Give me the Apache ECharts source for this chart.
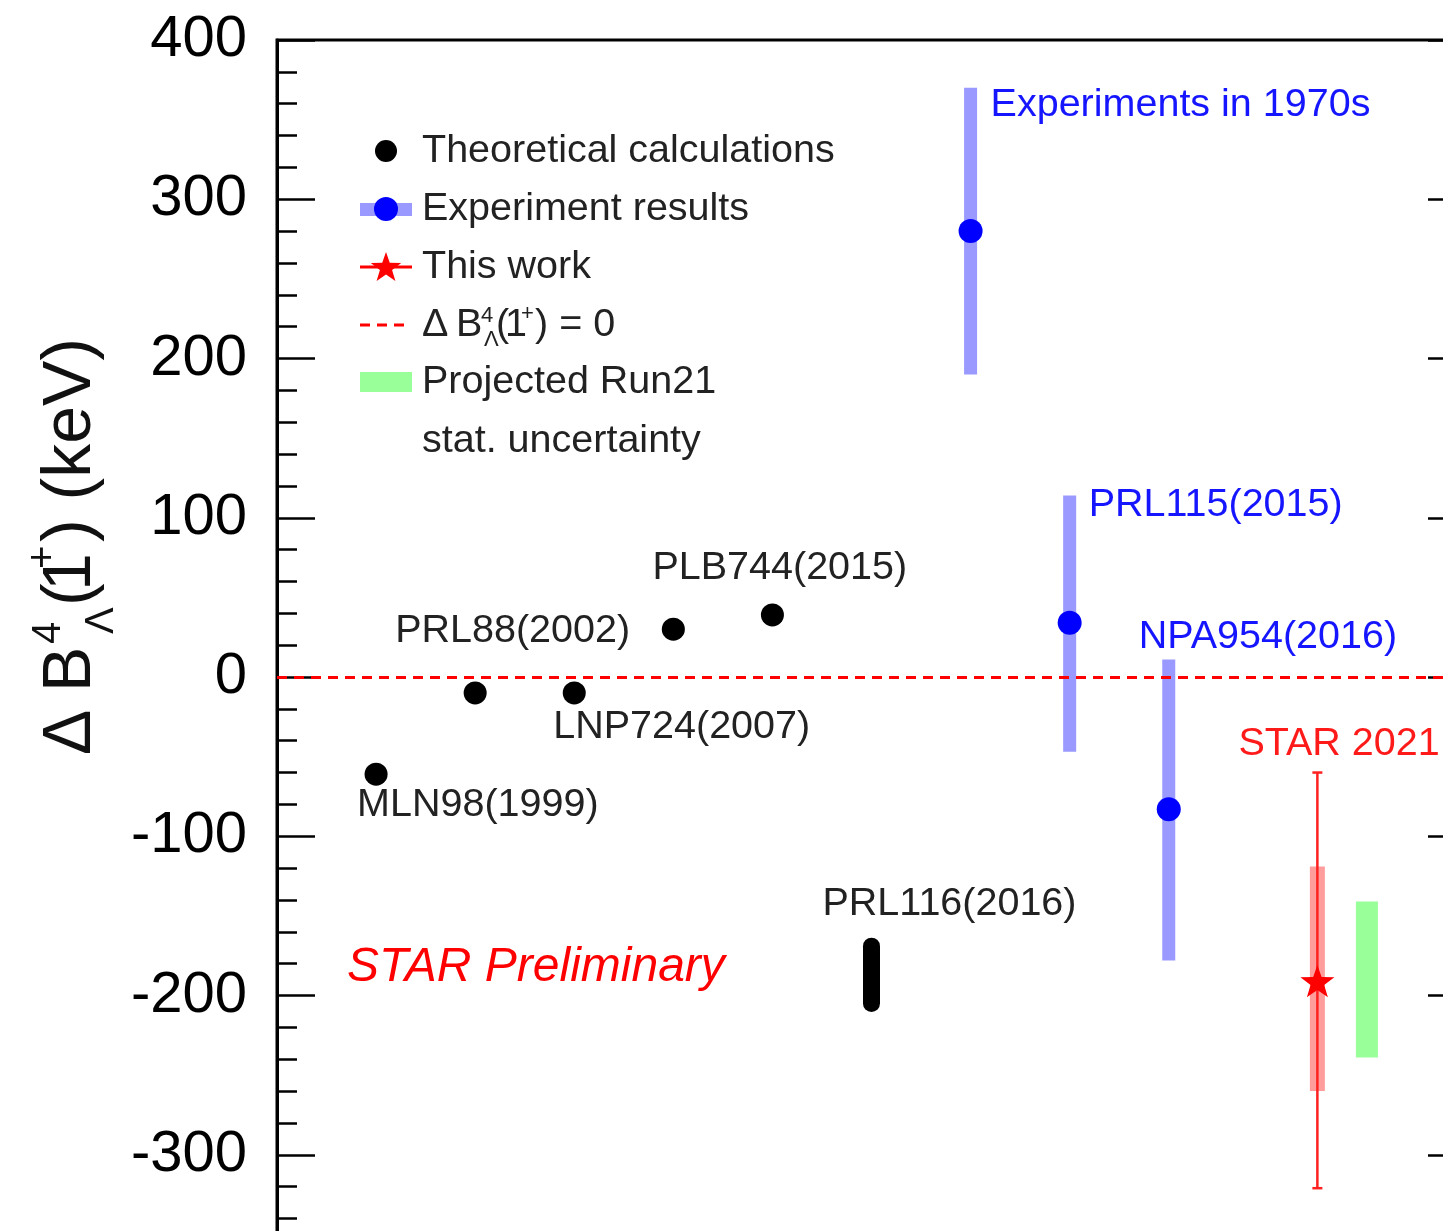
<!DOCTYPE html>
<html><head><meta charset="utf-8">
<script src="https://cdn.jsdelivr.net/npm/echarts@6/dist/echarts.min.js"></script>
<style>html,body{margin:0;padding:0;background:#fff}#c{width:1443px;height:1231px}</style>
</head><body><div id="c"></div>
<script>
// ---------------- data ----------------
const theoryX = [1, 2, 3, 4, 5];
const theoryY = [-61, -10, -10, 30, 39];
const theoryLabels = ['MLN98(1999)', 'PRL88(2002)', 'LNP724(2007)', '', 'PLB744(2015)'];
const rangeX = [6];
const rangeLow = [-205];
const rangeHigh = [-169];
const rangeLabels = ['PRL116(2016)'];
const expX = [7, 8, 9];
const expY = [280, 34, -83];
const expLow = [190, -47, -178];
const expHigh = [370, 114, 11];
const expLabels = ['Experiments in 1970s', 'PRL115(2015)', 'NPA954(2016)'];
const workX = [10.5];
const workY = [-191];
const workStatLow = [-260];
const workStatHigh = [-119];
const workTotLow = [-321];
const workTotHigh = [-60];
const workLabels = ['STAR 2021'];
const projX = [11];
const projLow = [-239];
const projHigh = [-141];
const yMin = -400, yMax = 400, yStep = 100;
const xMin = 0, xMax = 12;

// ---------------- style ----------------
const FONT = '"Liberation Sans", Arial, Helvetica, sans-serif';
const LF = 39.5;
const theoryLabelOffset = [[-19, 31], [-80, -62], [-21, 34], [0, 0], [-120, -47]];
const expLabelOffset = [[20, 17], [19, 10], [-30, -22]];
const rangeLabelOffset = [-49, -42];
const workLabelOffset = [-79, -28];

function starPoints(cx, cy, R, ratio) {
  const pts = [];
  for (let i = 0; i < 10; i++) {
    const r = i % 2 === 0 ? R : R * ratio;
    const a = -Math.PI / 2 + i * Math.PI / 5;
    pts.push([cx + r * Math.cos(a), cy + r * Math.sin(a)]);
  }
  return pts;
}
const starSym = 'path://' + starPoints(0, 0, 1, 0.4).map((p, i) => (i ? 'L' : 'M') + p[0].toFixed(3) + ',' + p[1].toFixed(3)).join(' ') + ' Z';

function txt(x, y, s, size, color, extra) {
  return { type: 'text', x: x, y: y, style: Object.assign({ text: s, fill: color, fontSize: size, fontFamily: FONT, align: 'left', verticalAlign: 'middle' }, extra || {}) };
}

const chart = echarts.init(document.getElementById('c'), null, { renderer: 'canvas' });

// y-axis title (rotated), local coords along text
const T = 68, TS = 40;
const titleGroup = {
  type: 'group', x: 71, y: 755, rotation: Math.PI / 2, silent: true,
  children: [
    txt(0, 0, 'Δ', T, '#111'),
    txt(63, 0, 'B', T, '#111'),
    txt(111, -22, '4', TS, '#111'),
    txt(121, 31, 'Λ', TS, '#111'),
    txt(149, 0, '(', T, '#111'),
    txt(164, 0, '1', T, '#111'),
    txt(186, -27, '+', TS, '#111'),
    txt(213, 0, ') (keV)', T, '#111')
  ]
};

const L = LF, LS = 22, LX = 422, LC = '#222';
const legendEls = [
  { type: 'circle', shape: { cx: 386, cy: 151, r: 11 }, style: { fill: '#000' } },
  txt(LX, 151, 'Theoretical calculations', L, LC),
  { type: 'rect', shape: { x: 360, y: 203, width: 52, height: 13 }, style: { fill: '#9999ff' } },
  { type: 'circle', shape: { cx: 386, cy: 209, r: 12 }, style: { fill: '#0000ff' } },
  txt(LX, 209, 'Experiment results', L, LC),
  { type: 'line', shape: { x1: 360, y1: 267, x2: 412, y2: 267 }, style: { stroke: '#ff0000', lineWidth: 3 } },
  { type: 'polygon', shape: { points: starPoints(386, 268, 16, 0.4) }, style: { fill: '#ff0000' } },
  txt(LX, 267, 'This work', L, LC),
  { type: 'line', shape: { x1: 360, y1: 325, x2: 406, y2: 325 }, style: { stroke: '#ff0000', lineWidth: 3, lineDash: [10, 7] } },
  txt(LX, 325, 'Δ', L, LC),
  txt(456, 325, 'B', L, LC),
  txt(481, 316, '4', LS, LC),
  txt(484, 340, 'Λ', LS, LC),
  txt(496, 325, '(', L, LC),
  txt(505, 325, '1', L, LC),
  txt(521, 314, '+', LS, LC),
  txt(535, 325, ') = 0', L, LC),
  { type: 'rect', shape: { x: 360, y: 372, width: 52, height: 20 }, style: { fill: '#99ff99' } },
  txt(LX, 382, 'Projected Run21', L, LC),
  txt(LX, 441, 'stat. uncertainty', L, LC)
];

const option = {
  animation: false,
  backgroundColor: '#fff',
  grid: { left: 277, right: -23, top: 40, bottom: -83, outerBoundsMode: 'none', containLabel: false, show: true, borderColor: '#000', borderWidth: 3, backgroundColor: 'transparent' },
  xAxis: { type: 'value', min: xMin, max: xMax, show: false },
  yAxis: [
    {
      type: 'value', min: yMin, max: yMax, interval: yStep, position: 'left',
      axisLine: { show: true, lineStyle: { color: '#000', width: 3 } },
      axisTick: { show: true, inside: true, length: 38, lineStyle: { color: '#000', width: 2.5 } },
      minorTick: { show: true, splitNumber: 5, length: 20, lineStyle: { color: '#000', width: 2.5 } },
      axisLabel: { show: true, fontSize: 58, fontFamily: FONT, color: '#000', margin: 30 },
      splitLine: { show: false }
    },
    {
      type: 'value', min: yMin, max: yMax, interval: yStep, position: 'right',
      axisLine: { show: false },
      axisTick: { show: true, inside: true, length: 38, lineStyle: { color: '#000', width: 2.5 } },
      minorTick: { show: true, splitNumber: 5, length: 20, lineStyle: { color: '#000', width: 2.5 } },
      axisLabel: { show: false },
      splitLine: { show: false }
    }
  ],
  graphic: [titleGroup].concat(legendEls).concat([
    txt(347, 968, 'STAR Preliminary', 48, '#ff0000', { fontStyle: 'italic' })
  ]),
  series: [
    {
      type: 'scatter', name: 'Theoretical calculations', z: 5,
      symbol: 'circle', symbolSize: 23, itemStyle: { color: '#000', opacity: 1 },
      label: { show: false, position: 'inside', align: 'left', verticalAlign: 'middle', fontSize: LF, fontFamily: FONT, color: '#222' },
      data: theoryX.map((x, i) => ({
        value: [x, theoryY[i]],
        label: { show: !!theoryLabels[i], formatter: theoryLabels[i], offset: theoryLabelOffset[i] }
      })),
      markLine: {
        silent: true, symbol: ['none', 'none'], label: { show: false },
        lineStyle: { color: '#ff0000', type: [10, 7], width: 3 },
        data: [{ yAxis: 0 }]
      }
    },
    {
      type: 'custom', name: 'PRL116', z: 5,
      encode: { x: 0, y: [1, 2] },
      data: rangeX.map((x, i) => [x, rangeLow[i], rangeHigh[i]]),
      renderItem: function (params, api) {
        const x = api.value(0);
        const p1 = api.coord([x, api.value(2)]);
        const p2 = api.coord([x, api.value(1)]);
        return {
          type: 'group', children: [
            { type: 'line', shape: { x1: p1[0], y1: p1[1], x2: p2[0], y2: p2[1] }, style: { stroke: '#000', lineWidth: 17, lineCap: 'round' } },
            txt(p1[0] + rangeLabelOffset[0], p1[1] + rangeLabelOffset[1], rangeLabels[params.dataIndex], LF, '#222')
          ]
        };
      }
    },
    {
      type: 'custom', name: 'Experiment bars', z: 3,
      encode: { x: 0, y: [1, 2] },
      data: expX.map((x, i) => [x, expLow[i], expHigh[i]]),
      renderItem: function (params, api) {
        const x = api.value(0);
        const p1 = api.coord([x, api.value(2)]);
        const p2 = api.coord([x, api.value(1)]);
        const off = expLabelOffset[params.dataIndex];
        return {
          type: 'group', children: [
            { type: 'rect', shape: { x: p1[0] - 6.5, y: p1[1], width: 13, height: p2[1] - p1[1] }, style: { fill: '#9999ff' } },
            txt(p1[0] + off[0], p1[1] + off[1], expLabels[params.dataIndex], LF, '#1515ff')
          ]
        };
      }
    },
    {
      type: 'scatter', name: 'Experiment results', z: 6,
      symbol: 'circle', symbolSize: 24, itemStyle: { color: '#0000ff', opacity: 1 },
      data: expX.map((x, i) => [x, expY[i]])
    },
    {
      type: 'custom', name: 'This work errors', z: 3,
      encode: { x: 0, y: [1, 2, 3, 4] },
      data: workX.map((x, i) => [x, workTotLow[i], workTotHigh[i], workStatLow[i], workStatHigh[i]]),
      renderItem: function (params, api) {
        const x = api.value(0);
        const t1 = api.coord([x, api.value(2)]);
        const t2 = api.coord([x, api.value(1)]);
        const s1 = api.coord([x, api.value(4)]);
        const s2 = api.coord([x, api.value(3)]);
        return {
          type: 'group', children: [
            { type: 'rect', shape: { x: s1[0] - 7.5, y: s1[1], width: 15, height: s2[1] - s1[1] }, style: { fill: 'rgba(255,60,60,0.5)' } },
            { type: 'line', shape: { x1: t1[0], y1: t1[1], x2: t2[0], y2: t2[1] }, style: { stroke: '#ff2020', lineWidth: 2.5 } },
            { type: 'line', shape: { x1: t1[0] - 5, y1: t1[1], x2: t1[0] + 5, y2: t1[1] }, style: { stroke: '#ff2020', lineWidth: 2.5 } },
            { type: 'line', shape: { x1: t2[0] - 5, y1: t2[1], x2: t2[0] + 5, y2: t2[1] }, style: { stroke: '#ff2020', lineWidth: 2.5 } },
            txt(t1[0] + workLabelOffset[0], t1[1] + workLabelOffset[1], workLabels[params.dataIndex], LF, '#ff1a1a')
          ]
        };
      }
    },
    {
      type: 'scatter', name: 'This work', z: 6,
      symbol: starSym, symbolKeepAspect: true, symbolSize: 34, itemStyle: { color: '#ff0000', opacity: 1 },
      data: workX.map((x, i) => [x, workY[i]])
    },
    {
      type: 'custom', name: 'Projected Run21', z: 3,
      encode: { x: 0, y: [1, 2] },
      data: projX.map((x, i) => [x, projLow[i], projHigh[i]]),
      renderItem: function (params, api) {
        const x = api.value(0);
        const p1 = api.coord([x, api.value(2)]);
        const p2 = api.coord([x, api.value(1)]);
        return { type: 'rect', shape: { x: p1[0] - 11, y: p1[1], width: 22, height: p2[1] - p1[1] }, style: { fill: '#99ff99' } };
      }
    }
  ]
};
chart.setOption(option);
</script>
</body></html>
